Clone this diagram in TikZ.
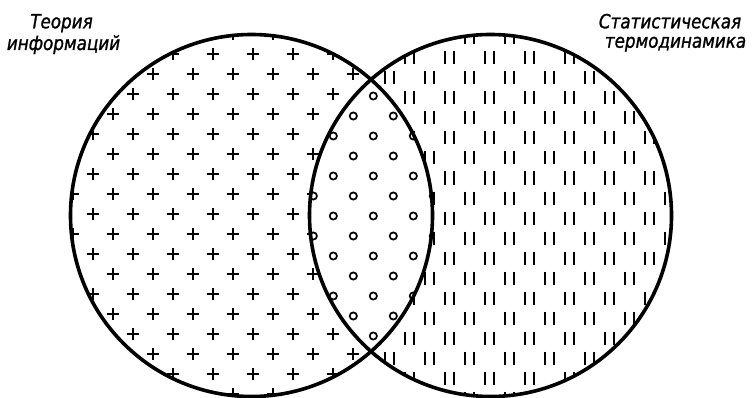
\documentclass[tikz,border=0pt]{standalone}
\usepackage{fontspec}
\newfontfamily\labfont{DejaVu Sans}[FakeStretch=0.86,FakeBold=1.2]
\begin{document}
\begin{tikzpicture}[x=1pt,y=-1pt,
  ring/.style={line width=3.6pt},
  plusmark/.style={line width=2.3pt},
  barmark/.style={line width=2.2pt},
  dotmark/.style={line width=1.7pt},
  lab/.style={font=\labfont\itshape\fontsize{19.5}{21}\selectfont, inner sep=0pt, anchor=base}]
\useasboundingbox (0,0) rectangle (754,398);
\coordinate (L) at (251.5,215.5);
\coordinate (R) at (490.5,215.5);
\def\rad{181pt}
% pluses in left circle
\begin{scope}
  \clip (L) circle[radius=\rad];
  \foreach \j in {0,...,19}{
    \foreach \i in {0,...,11}{
      \pgfmathsetmacro{\px}{13.3+40*\i+20*mod(\j,2)}
      \pgfmathsetmacro{\py}{14+20*\j}
      \draw[plusmark] (\px,\py) +(-6,0) -- +(6,0) +(0,-6) -- +(0,6);
    }
  }
\end{scope}
% bars in right circle
\begin{scope}
  \clip (R) circle[radius=\rad];
  \foreach \j in {0,...,19}{
    \foreach \i in {7,...,18}{
      \pgfmathsetmacro{\px}{9.3+40*\i+20*mod(\j,2)}
      \pgfmathsetmacro{\py}{18+20*\j}
      \draw[barmark] (\px,\py) +(-4.3,-6.5) -- +(-4.3,6.5) +(4.3,-6.5) -- +(4.3,6.5);
    }
  }
\end{scope}
% lens: erase and put circles
\begin{scope}
  \clip (L) circle[radius=\rad];
  \fill[white] (R) circle[radius=\rad];
  \clip (R) circle[radius=\rad];
  \foreach \j in {0,...,19}{
    \foreach \i in {6,...,11}{
      \pgfmathsetmacro{\px}{13.3+40*\i+20*mod(\j,2)}
      \pgfmathsetmacro{\py}{16+20*\j}
      \draw[dotmark] (\px,\py) circle[radius=3.6pt];
    }
  }
\end{scope}
\draw[ring] (L) circle[radius=\rad];
\draw[ring] (R) circle[radius=\rad];
\node[lab] (t1) at (61.5,28.3) {Теория};
\node[lab] (t2) at (63.5,50) {информаций};
\node[lab] (s1) at (670,28.3) {Статистическая};
\node[lab] (s2) at (675.5,47.7) {термодинамика};
\end{tikzpicture}
\end{document}
